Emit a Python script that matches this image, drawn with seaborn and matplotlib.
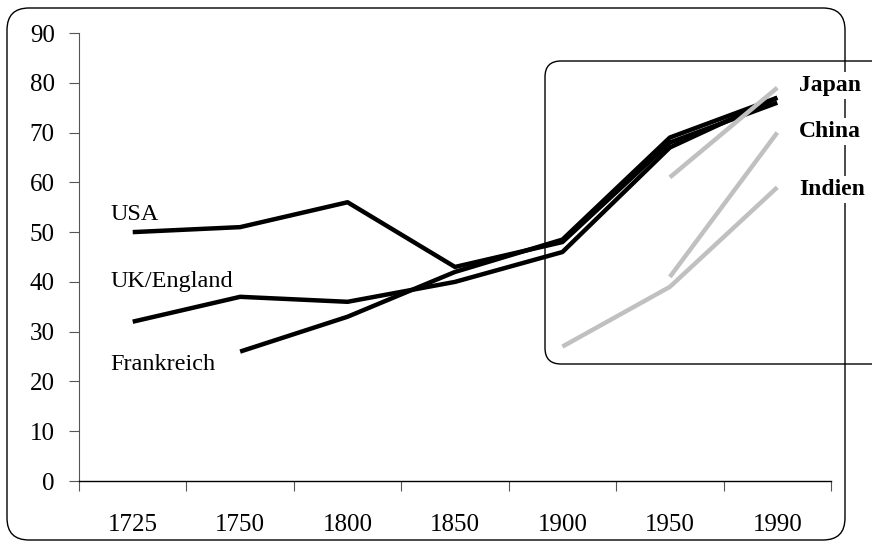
import numpy as np
import pandas as pd
import matplotlib
matplotlib.use("Agg")
import matplotlib.pyplot as plt
import seaborn as sns
from matplotlib.patches import FancyBboxPatch
from matplotlib.transforms import IdentityTransform

years = ['1725', '1750', '1800', '1850', '1900', '1950', '1990']
usa = [50, 51, 56, 43, 48, 68, 76]
uk = [32, 37, 36, 40, 46, 67, 77]
frankreich = [np.nan, 26, 33, 42, 48.5, 69, 77]
japan = [np.nan, np.nan, np.nan, np.nan, np.nan, 61, 79]
china = [np.nan, np.nan, np.nan, np.nan, np.nan, 41, 70]
indien = [np.nan, np.nan, np.nan, np.nan, 27, 39, 59]

series = {'USA': usa, 'UK/England': uk, 'Frankreich': frankreich,
          'Japan': japan, 'China': china, 'Indien': indien}
rows = []
for land, vals in series.items():
    for i, v in enumerate(vals):
        rows.append({'land': land, 'pos': i, 'wert': v})
df = pd.DataFrame(rows).dropna()

sns.set_style("white")
plt.rcParams['font.family'] = ['Liberation Serif', 'DejaVu Serif']
plt.rcParams['text.color'] = 'black'
plt.rcParams['xtick.color'] = 'black'
plt.rcParams['ytick.color'] = 'black'

W, H = 872, 544
fig = plt.figure(figsize=(W / 100, H / 100), dpi=100)
ax = fig.add_axes([79 / W, 1 - 481 / H, (831 - 79) / W, (481 - 33) / H])
ax.patch.set_visible(False)

# Rahmen in Pixelkoordinaten (Ursprung unten links)
def rahmen(x0, y0, x1, y1, r):
    return FancyBboxPatch((x0, H - y1), x1 - x0, y1 - y0,
                          boxstyle=f"round,pad=0,rounding_size={r}",
                          transform=IdentityTransform(), fill=False, lw=1.0,
                          edgecolor='black', zorder=0.5, clip_on=False)

ax.add_artist(rahmen(7, 8, 845, 540, 22))
ax.add_artist(rahmen(545, 61, 905, 364, 16))

pal = {'USA': 'black', 'UK/England': 'black', 'Frankreich': 'black',
       'Japan': '#c0c0c0', 'China': '#c0c0c0', 'Indien': '#c0c0c0'}
sns.lineplot(data=df, x='pos', y='wert', hue='land', palette=pal,
             hue_order=list(series.keys()), linewidth=3.2, legend=False,
             ax=ax, zorder=3)
for line in ax.get_lines():
    line.set_solid_capstyle('butt')

ax.set_xlim(-0.5, len(years) - 0.5)
ax.set_ylim(0, 90)
ax.set_yticks(range(0, 91, 10))
ax.set_xticks(range(len(years)))
ax.set_xticklabels(years)
ax.set_xticks(np.arange(-0.5, len(years), 1), minor=True)
ax.tick_params(axis='x', which='major', length=0, pad=24, labelsize=18)
ax.tick_params(axis='x', which='minor', length=7, width=0.8, color='#555555',
               direction='out', bottom=True)
ax.tick_params(axis='y', length=7, width=0.8, color='#555555', pad=10.5,
               labelsize=18, left=True, labelcolor='black')
ax.set_xlabel('')
ax.set_ylabel('')
for s in ['top', 'right']:
    ax.spines[s].set_visible(False)
ax.spines['left'].set_color('#555555')
ax.spines['left'].set_linewidth(0.8)
ax.spines['bottom'].set_color('black')
ax.spines['bottom'].set_linewidth(1.0)

# Beschriftungen links
for txt, yv in [('USA', 53.5), ('UK/England', 40), ('Frankreich', 23.5)]:
    ax.text(-0.21, yv, txt, fontsize=17.5, ha='left', va='center')

# Beschriftungen rechts (fett, weisser Hintergrund)
for txt, yv in [('Japan', 79.5), ('China', 70.2), ('Indien', 58.5)]:
    ax.text(6.2, yv, txt, fontsize=17, fontweight='bold', ha='left',
            va='center', zorder=4, clip_on=False,
            bbox=dict(facecolor='white', edgecolor='none', pad=2))

fig.savefig('out.png', dpi=100)
